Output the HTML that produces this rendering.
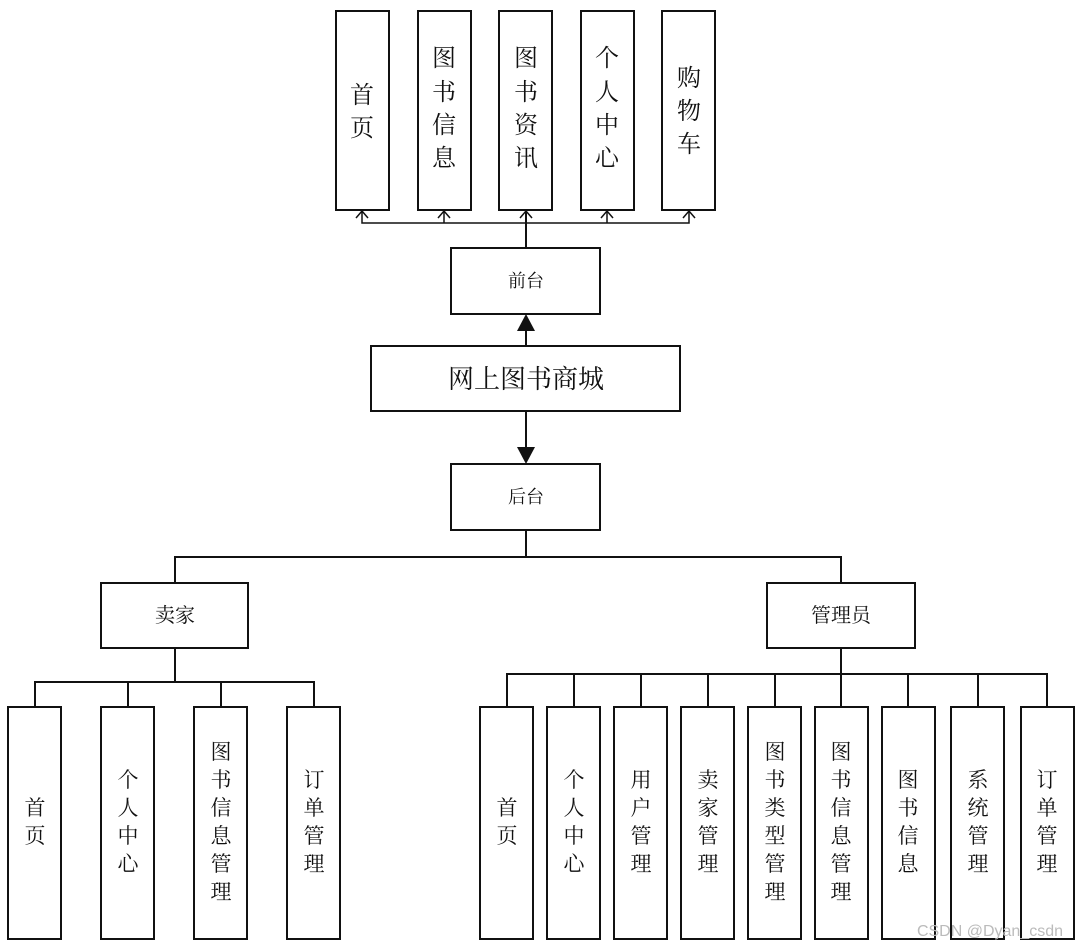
<!DOCTYPE html>
<html><head><meta charset="utf-8"><style>
body{margin:0;background:#fff}
svg text{font-family:"Liberation Serif","Noto Serif CJK SC","Noto Sans CJK SC",serif;fill:#111;text-anchor:middle}
</style></head><body>
<svg width="1083" height="947" viewBox="0 0 1083 947" xmlns="http://www.w3.org/2000/svg">
<g fill="#fff" stroke="#111" stroke-width="2">
<rect x="336" y="11" width="53" height="199"/><rect x="418" y="11" width="53" height="199"/><rect x="499" y="11" width="53" height="199"/><rect x="581" y="11" width="53" height="199"/><rect x="662" y="11" width="53" height="199"/>
<rect x="451" y="248" width="149" height="66"/>
<rect x="371" y="346" width="309" height="65"/>
<rect x="451" y="464" width="149" height="66"/>
<rect x="101" y="583" width="147" height="65"/>
<rect x="767" y="583" width="148" height="65"/>
<rect x="8" y="707" width="53" height="232"/><rect x="101" y="707" width="53" height="232"/><rect x="194" y="707" width="53" height="232"/><rect x="287" y="707" width="53" height="232"/>
<rect x="480" y="707" width="53" height="232"/><rect x="547" y="707" width="53" height="232"/><rect x="614" y="707" width="53" height="232"/><rect x="681" y="707" width="53" height="232"/><rect x="748" y="707" width="53" height="232"/><rect x="815" y="707" width="53" height="232"/><rect x="882" y="707" width="53" height="232"/><rect x="951" y="707" width="53" height="232"/><rect x="1021" y="707" width="53" height="232"/>
</g>
<g fill="none" stroke="#111" stroke-width="1.5">
<path d="M362 211V223H689V211M444 211V223M607 211V223"/>
<path d="M356 218L362 211L368 218M438 218L444 211L450 218M520 218L526 211L532 218M601 218L607 211L613 218M683 218L689 211L695 218"/>
</g>
<g fill="none" stroke="#111" stroke-width="2">
<path d="M526 211V248"/>
<path d="M526 346V330"/>
<path d="M526 411V448"/>
<path d="M526 530V557M175 583V557H841V583"/>
<path d="M175 648V682M35 707V682H314V707M128 682V707M221 682V707"/>
<path d="M841 648V674M507 707V674H1047V707M574 674V707M641 674V707M708 674V707M775 674V707M841 674V707M908 674V707M978 674V707"/>
</g>
<path d="M517 331L526 314L535 331Z" fill="#111"/>
<path d="M517 447L526 464L535 447Z" fill="#111"/>
<g font-size="24">
<text x="362"><tspan x="362" y="103">首</tspan><tspan x="362" y="136">页</tspan></text>
<text><tspan x="444" y="66">图</tspan><tspan x="444" y="100">书</tspan><tspan x="444" y="133">信</tspan><tspan x="444" y="166">息</tspan></text>
<text><tspan x="526" y="66">图</tspan><tspan x="526" y="100">书</tspan><tspan x="526" y="133">资</tspan><tspan x="526" y="166">讯</tspan></text>
<text><tspan x="607" y="66">个</tspan><tspan x="607" y="100">人</tspan><tspan x="607" y="133">中</tspan><tspan x="607" y="166">心</tspan></text>
<text><tspan x="689" y="86">购</tspan><tspan x="689" y="119">物</tspan><tspan x="689" y="152">车</tspan></text>
</g>
<text x="526" y="287" font-size="18">前台</text>
<text x="526" y="388" font-size="26">网上图书商城</text>
<text x="526" y="503" font-size="18">后台</text>
<text x="175" y="622" font-size="20">卖家</text>
<text x="841" y="622" font-size="20">管理员</text>
<g font-size="21">
<text><tspan x="35" y="815">首</tspan><tspan x="35" y="843">页</tspan></text>
<text><tspan x="128" y="787">个</tspan><tspan x="128" y="815">人</tspan><tspan x="128" y="843">中</tspan><tspan x="128" y="871">心</tspan></text>
<text><tspan x="221" y="759">图</tspan><tspan x="221" y="787">书</tspan><tspan x="221" y="815">信</tspan><tspan x="221" y="843">息</tspan><tspan x="221" y="871">管</tspan><tspan x="221" y="899">理</tspan></text>
<text><tspan x="314" y="787">订</tspan><tspan x="314" y="815">单</tspan><tspan x="314" y="843">管</tspan><tspan x="314" y="871">理</tspan></text>
<text><tspan x="507" y="815">首</tspan><tspan x="507" y="843">页</tspan></text>
<text><tspan x="574" y="787">个</tspan><tspan x="574" y="815">人</tspan><tspan x="574" y="843">中</tspan><tspan x="574" y="871">心</tspan></text>
<text><tspan x="641" y="787">用</tspan><tspan x="641" y="815">户</tspan><tspan x="641" y="843">管</tspan><tspan x="641" y="871">理</tspan></text>
<text><tspan x="708" y="787">卖</tspan><tspan x="708" y="815">家</tspan><tspan x="708" y="843">管</tspan><tspan x="708" y="871">理</tspan></text>
<text><tspan x="775" y="759">图</tspan><tspan x="775" y="787">书</tspan><tspan x="775" y="815">类</tspan><tspan x="775" y="843">型</tspan><tspan x="775" y="871">管</tspan><tspan x="775" y="899">理</tspan></text>
<text><tspan x="841" y="759">图</tspan><tspan x="841" y="787">书</tspan><tspan x="841" y="815">信</tspan><tspan x="841" y="843">息</tspan><tspan x="841" y="871">管</tspan><tspan x="841" y="899">理</tspan></text>
<text><tspan x="908" y="787">图</tspan><tspan x="908" y="815">书</tspan><tspan x="908" y="843">信</tspan><tspan x="908" y="871">息</tspan></text>
<text><tspan x="978" y="787">系</tspan><tspan x="978" y="815">统</tspan><tspan x="978" y="843">管</tspan><tspan x="978" y="871">理</tspan></text>
<text><tspan x="1047" y="787">订</tspan><tspan x="1047" y="815">单</tspan><tspan x="1047" y="843">管</tspan><tspan x="1047" y="871">理</tspan></text>
</g>
<text x="990" y="936" font-size="16" style="fill:#bbb;font-family:'Liberation Sans',sans-serif">CSDN @Dyan_csdn</text>
</svg>
</body></html>
